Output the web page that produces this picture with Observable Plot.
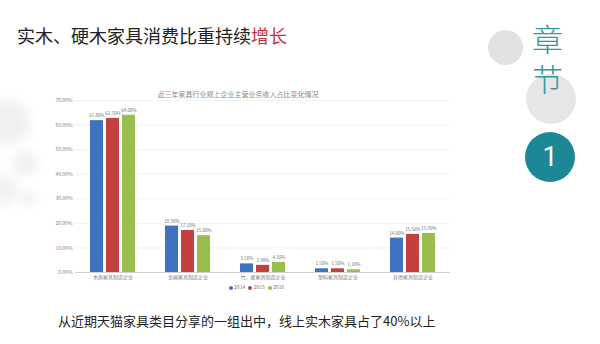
<!DOCTYPE html>
<html>
<head>
<meta charset="utf-8">
<script src="https://cdn.jsdelivr.net/npm/d3@7"></script>
<script src="https://cdn.jsdelivr.net/npm/@observablehq/plot@0.6"></script>
<style>
  html, body { margin: 0; padding: 0; background: #fff; }
  #page { position: relative; width: 600px; height: 344px; overflow: hidden; background: #fff;
          font-family: "Noto Sans CJK SC", "Noto Sans", sans-serif; }
  .abs { position: absolute; }
  #title { left: 17px; top: 23px; font-size: 18px; color: #222; white-space: nowrap; line-height: 24px; }
  #title .hl { color: #c8323c; }
  #ctitle { left: 138px; top: 89px; width: 200px; text-align: center; font-size: 7px; color: #8a8a8a; white-space: nowrap; }
  #legend { left: 200px; top: 283px; width: 110px; text-align: center; font-size: 5px; color: #777; white-space: nowrap; }
  #legend span.sw { display: inline-block; width: 4px; height: 4px; border-radius: 2px; margin: 0 1.5px 0 3px; vertical-align: middle; }
  #caption { left: 58px; top: 311px; font-size: 13px; color: #222; white-space: nowrap; line-height: 20px; }
  .circle { position: absolute; border-radius: 50%; }
  #vch { position: absolute; left: 527px; top: 24px; width: 40px; font-size: 31px; font-weight: 300; color: #2e9a9e;
         line-height: 40px; writing-mode: vertical-rl; letter-spacing: 9px; white-space: nowrap; }
  #num { position: absolute; left: 525px; top: 132px; width: 50px; height: 50px; line-height: 50px; text-align: center;
         color: #fff; font-family: Roboto, sans-serif; font-size: 27px; }
  #chart { position: absolute; left: 40px; top: 85px; }
</style>
</head>
<body>
<div id="page">
  <div class="circle" style="left:-14px;top:100px;width:44px;height:44px;background:#000;opacity:0.06;filter:blur(6px)"></div>
  <div class="circle" style="left:12px;top:150px;width:26px;height:26px;background:#000;opacity:0.05;filter:blur(5px)"></div>
  <div class="circle" style="left:-10px;top:175px;width:30px;height:30px;background:#000;opacity:0.05;filter:blur(6px)"></div>
  <div class="circle" style="left:20px;top:190px;width:18px;height:18px;background:#000;opacity:0.04;filter:blur(4px)"></div>

  <div class="circle" style="left:488px;top:30px;width:35px;height:35px;background:#e2e2e2"></div>
  <div class="circle" style="left:526px;top:74px;width:50px;height:50px;background:#e6e6e6"></div>
  <div class="circle" style="left:525px;top:132px;width:50px;height:50px;background:#1c8795"></div>
  <div id="vch">章节</div>
  <div id="num">1</div>

  <div id="title" class="abs">实木、硬木家具消费比重持续<span class="hl">增长</span></div>
  <div id="ctitle" class="abs">近三年家具行业规上企业主营业务收入占比变化情况</div>
  <div id="chart"></div>
  <div id="legend" class="abs"></div>
  <div id="caption" class="abs">从近期天猫家具类目分享的一组出中，线上实木家具占了40%以上</div>
</div>
<script>
const categories = ["木质家具制造企业", "金属家具制造企业", "竹、藤家具制造企业", "塑料家具制造企业", "其他家具制造企业"];
const years = ["2014", "2015", "2016"];
const values2014 = [61.8, 18.9, 3.5, 1.5, 14.0];
const values2015 = [62.7, 17.1, 2.9, 1.5, 15.5];
const values2016 = [64.0, 15.0, 4.1, 1.1, 15.9];
const yTicks = [0, 10, 20, 30, 40, 50, 60, 70];
const colors = ["#3f72c2", "#c4403e", "#98be4c"];

const series = [values2014, values2015, values2016];
const rows = [];
categories.forEach((c, i) => {
  years.forEach((y, j) => rows.push({category: c, year: y, value: series[j][i]}));
});

const chart = Plot.plot({
  width: 430,
  height: 202,
  marginLeft: 35,
  marginRight: 20,
  marginTop: 15,
  marginBottom: 15,
  style: {fontSize: "5px", fontFamily: "'Noto Sans CJK SC', 'Noto Sans', sans-serif", color: "#808080", background: "transparent"},
  facet: {data: rows, x: "category"},
  fx: {domain: categories, padding: 0, label: null, axis: "bottom", tickSize: 0, tickPadding: 3},
  x: {domain: years, paddingInner: 0.2, paddingOuter: 0.9, axis: null},
  y: {domain: [0, 70], ticks: yTicks, tickFormat: d => d.toFixed(2) + "%", grid: true, tickSize: 0, tickPadding: 3, label: null},
  color: {domain: years, range: colors},
  marks: [
    Plot.ruleY([0], {stroke: "#d0d0d0"}),
    Plot.barY(rows, {x: "year", y: "value", fill: "year"}),
    Plot.text(rows, {x: "year", y: "value", text: d => d.value.toFixed(2) + "%", dy: -5, fontSize: 4.5, fill: "#707070"})
  ]
});
document.getElementById("chart").appendChild(chart);

const legend = document.getElementById("legend");
years.forEach((y, i) => {
  const sw = document.createElement("span");
  sw.className = "sw";
  sw.style.background = colors[i];
  legend.appendChild(sw);
  legend.appendChild(document.createTextNode(y));
});
</script>
</body>
</html>
